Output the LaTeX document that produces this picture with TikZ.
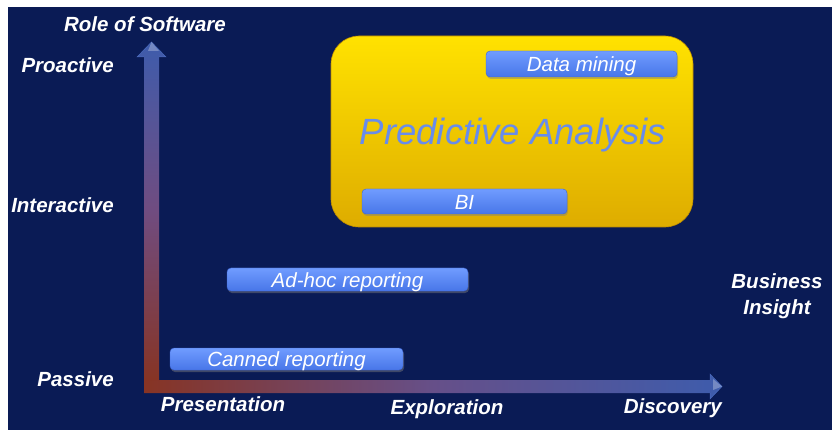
\documentclass[tikz,border=0pt]{standalone}
\usepackage{fontspec}
\setmainfont{Liberation Sans}
\usetikzlibrary{shadows}

\definecolor{navy}{RGB}{10,27,85}
\definecolor{axisred}{RGB}{135,52,36}
\definecolor{axispurple}{RGB}{112,76,128}
\definecolor{axisblue}{RGB}{62,92,172}
\definecolor{axisedge}{RGB}{80,115,200}
\definecolor{goldtop}{RGB}{255,226,0}
\definecolor{goldbot}{RGB}{222,172,0}
\definecolor{goldedge}{RGB}{190,140,0}
\definecolor{pilltop}{RGB}{112,156,255}
\definecolor{pillbot}{RGB}{72,118,232}
\definecolor{pilledge}{RGB}{60,100,210}
\definecolor{bigtext}{RGB}{104,140,236}

\tikzset{
  axislabel/.style={text=white,font=\fontsize{20.5}{24}\selectfont\bfseries\itshape,inner sep=0pt},
  pill/.style={rounded corners=4pt,top color=pilltop,bottom color=pillbot,draw=pilledge,line width=0.4pt,
    drop shadow={shadow xshift=1pt,shadow yshift=-2pt,opacity=0.45},
    text=white,font=\fontsize{20.5}{24}\selectfont\itshape,inner sep=0pt,
    text height=16.5pt,text depth=1pt},
  goldbox/.style={rounded corners=28pt,top color=goldtop,bottom color=goldbot,draw=goldedge,line width=0.6pt,inner sep=0pt},
  shine/.style={fill=white,opacity=0.28}
}

\begin{document}
\begin{tikzpicture}[x=1pt,y=-1pt]
\useasboundingbox (0,0) rectangle (832,430);
\fill[white] (0,0) rectangle (832,430);
\fill[navy] (8,7) rectangle (832,430);

% horizontal axis (Business Insight)
\coordinate (origin) at (151.5,386.5);
\coordinate (xend) at (722,386.5);
\coordinate (yend) at (151.5,42);
\shade[left color=axisred,right color=axisblue,middle color=axispurple!80!axisblue]
  (144,380) -- (710,380) -- (710,374) -- (722,386.5) -- (710,399) -- (710,393) -- (144,393) -- cycle;
\draw[axisedge,line width=0.5pt,opacity=0.8] (710,380) -- (710,374) -- (722,386.5) -- (710,399) -- (710,393);
\fill[shine] (722,386.5) -- (713,379) -- (713,390) -- cycle;

% vertical axis (Role of Software)
\shade[bottom color=axisred,top color=axisblue,middle color=axispurple]
  (144,380) -- (144,57) -- (137,57) -- (151.5,42) -- (166,57) -- (159,57) -- (159,380) -- cycle;
\draw[axisedge,line width=0.5pt,opacity=0.8] (144,57) -- (137,57) -- (151.5,42) -- (166,57) -- (159,57);
\fill[shine] (151.5,42) -- (159,51) -- (148,51) -- cycle;

% axis labels
\node[axislabel,anchor=base] (role) at (145,32) {Role of Software};
\node[axislabel,anchor=base east] (proactive) at (114,73) {Proactive};
\node[axislabel,anchor=base east] (interactive) at (114,213) {Interactive};
\node[axislabel,anchor=base east] (passive) at (114,386) {Passive};
\node[axislabel,anchor=base] (presentation) at (223,411) {Presentation};
\node[axislabel,anchor=base] (exploration) at (447,414) {Exploration};
\node[axislabel,anchor=base east] (discovery) at (722,413) {Discovery};
\node[axislabel,anchor=base,align=center] (insight) at (777,314) {Business\\[2pt]Insight};

% predictive analysis region
\node[goldbox,minimum width=362pt,minimum height=191pt] (predictive) at (512,131.5) {};
\node[text=bigtext,font=\fontsize{36.5}{40}\selectfont\itshape,inner sep=0pt,anchor=base] (predlabel) at (513,145) {Predictive Analysis};

% software categories
\node[pill,minimum width=191pt,minimum height=26pt] (mining) at (581.5,64) {Data mining};
\node[pill,minimum width=205pt,minimum height=25pt] (bi) at (464.5,201.5) {BI};
\node[pill,minimum width=241pt,minimum height=23pt] (adhoc) at (347.5,279.5) {Ad-hoc reporting};
\node[pill,minimum width=233pt,minimum height=22pt] (canned) at (286.5,359) {Canned reporting};
\end{tikzpicture}
\end{document}
